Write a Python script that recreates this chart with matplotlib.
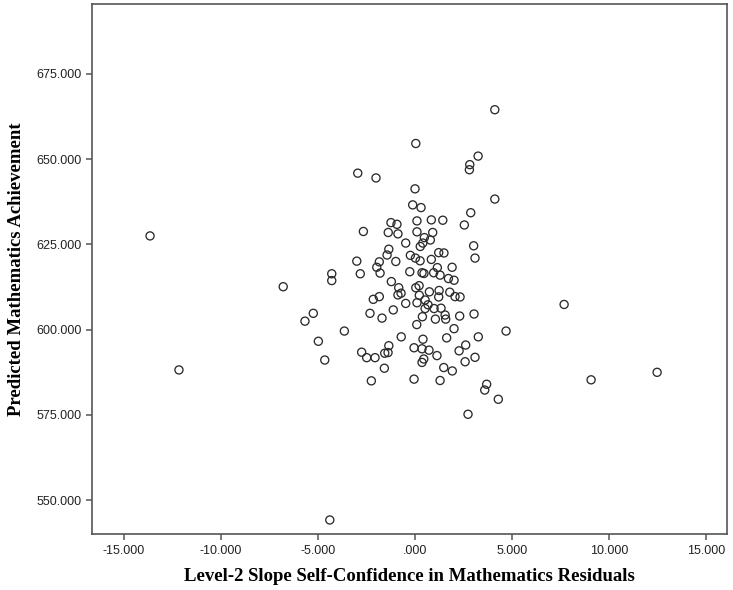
import numpy as np
import matplotlib
matplotlib.use("Agg")
import matplotlib.pyplot as plt
from matplotlib.ticker import FuncFormatter

# Level-2 slope residuals (x) and predicted achievement (y)
slope_resid = [
    -13.65, -12.16, -4.39, 2.73, 7.68, 4.69, 9.07, 12.47, 3.69, 3.59,
    4.29, 4.11, 4.11, 3.25, 2.82, 2.80, 0.04, -2.95, -2.01, 0.00,
    -6.79, -5.24, -5.67, -4.98, -4.65, -3.64, -4.29, -4.29, -3.00, -2.82,
    -2.66, 3.26,
    -0.12, 0.31, 2.87, -1.24, -0.93, 0.10, 0.84, 1.43, 2.54,
    -1.38, -0.88, 0.10, 0.91, 0.48, 0.79, -0.48, 0.40, 0.27, 3.02,
    -1.35, 1.22, 1.49, -1.44, -0.24, 0.02, 0.26, 0.84, 3.09,
    -1.84, -0.99, -1.97, 1.15, 1.91, -1.80, -0.27, 0.36, 0.46, 0.96, 1.29,
    -1.22, 1.72, 2.01, -0.84, 0.04, 0.21, 0.74, 1.24, -0.88, -0.72, 0.22,
    1.22, 1.79, 2.06, 2.32, -2.15, -1.84, 0.52, -0.48, 0.10, 0.67, 0.52,
    0.98, 1.34, -2.32, -1.12, -1.70, 0.38, 1.05, 1.55, 1.58, 2.30, 3.04,
    0.09, 2.01, -0.71, 0.41, 1.63, -2.75, -1.35, -1.56, -1.39, -0.05,
    0.36, 0.72, 2.61, 2.27, -2.49, -2.06, 0.45, 0.36, 1.13, 3.09, 2.58,
    -1.58, 1.48, 1.92, -2.25, -0.05, 1.29,
]
pred_math = [
    627.5, 588.2, 544.2, 575.2, 607.4, 599.6, 585.3, 587.5, 584.0, 582.3,
    579.6, 664.5, 638.3, 650.9, 648.4, 646.9, 654.6, 645.9, 644.5, 641.3,
    612.6, 604.8, 602.5, 596.6, 591.1, 599.6, 616.4, 614.4, 620.1, 616.4,
    628.8, 597.9,
    636.6, 635.8, 634.3, 631.4, 630.9, 631.9, 632.2, 632.1, 630.7,
    628.5, 628.1, 628.7, 628.5, 627.0, 626.3, 625.4, 625.4, 624.4, 624.6,
    623.6, 622.6, 622.5, 621.9, 621.8, 621.0, 620.2, 620.6, 621.0,
    619.9, 620.0, 618.3, 618.2, 618.3, 616.6, 617.0, 616.7, 616.5, 616.7, 616.0,
    614.1, 615.0, 614.5, 612.3, 612.3, 612.9, 611.1, 611.5, 610.2, 610.7, 610.1,
    609.6, 611.0, 609.7, 609.6, 608.9, 609.7, 608.7, 607.7, 607.9, 607.3, 606.2,
    606.2, 606.3, 604.8, 605.8, 603.4, 603.8, 603.1, 604.3, 603.1, 604.0, 604.6,
    601.5, 600.3, 597.9, 597.2, 597.6, 593.4, 595.3, 593.1, 593.3, 594.7,
    594.4, 594.0, 595.5, 593.8, 591.8, 591.8, 591.4, 590.4, 592.4, 591.9, 590.6,
    588.7, 588.9, 587.9, 585.0, 585.5, 585.1,
]

x_ticks = [-15, -10, -5, 0, 5, 10, 15]
y_ticks = [550, 575, 600, 625, 650, 675]


def spss_fmt(v, pos):
    s = f"{v:.3f}"
    if s in ("0.000", "-0.000"):
        s = ".000"
    return s


fig = plt.figure(figsize=(7.33, 5.90), dpi=100)
ax = fig.add_axes([0.1255, 0.0944, 0.8663, 0.8988])

ax.scatter(slope_resid, pred_math, s=34, facecolors="none",
           edgecolors="#2b2b2b", linewidths=0.95)

ax.set_xlim(-16.64, 16.07)
ax.set_ylim(540.0, 695.5)
ax.set_xticks(x_ticks)
ax.set_yticks(y_ticks)
ax.xaxis.set_major_formatter(FuncFormatter(spss_fmt))
ax.yaxis.set_major_formatter(FuncFormatter(spss_fmt))

for side in ("top", "right", "left", "bottom"):
    ax.spines[side].set_color("#555555")
    ax.spines[side].set_linewidth(1.2)

ax.tick_params(axis="both", direction="out", length=4, width=1.1,
               color="#555555", labelsize=9, labelcolor="#222222",
               top=False, right=False)
for lab in ax.get_xticklabels() + ax.get_yticklabels():
    lab.set_family("Liberation Sans")

ax.set_xlabel("Level-2 Slope Self-Confidence in Mathematics Residuals",
              family="Liberation Serif", fontweight="bold", fontsize=13.5,
              labelpad=8)
ax.set_ylabel("Predicted Mathematics Achievement",
              family="Liberation Serif", fontweight="bold", fontsize=13.5,
              labelpad=8)

fig.savefig("out.png", dpi=100, facecolor="white")
